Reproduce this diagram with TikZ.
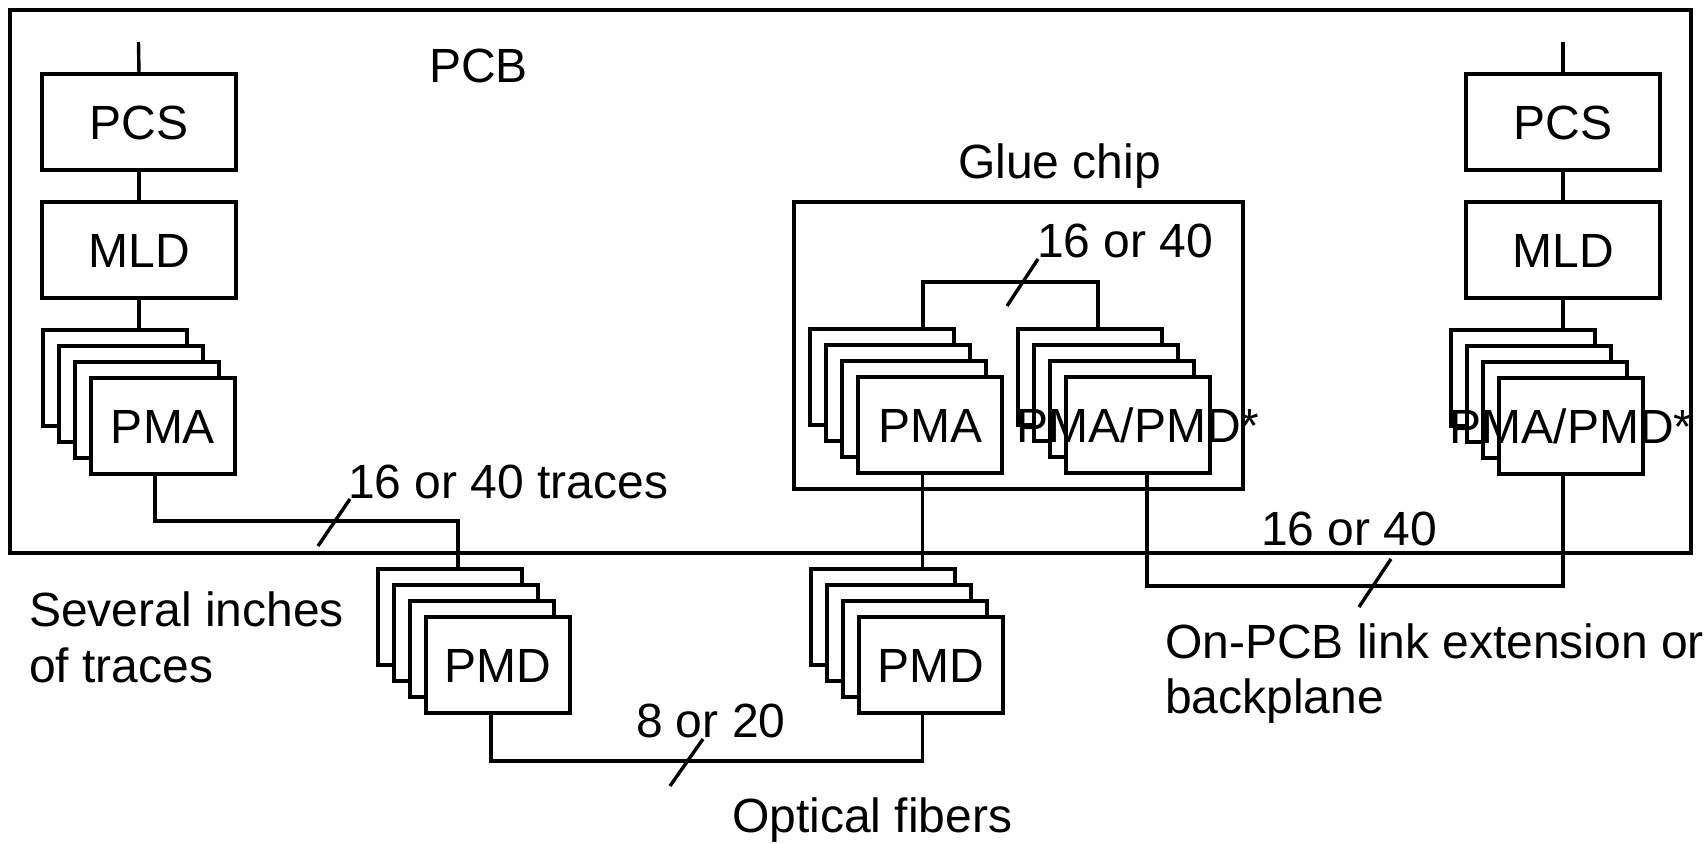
\documentclass[tikz,border=0pt]{standalone}
\usepackage{fontspec}
\setmainfont{Liberation Sans}
\tikzset{
  lw/.style={line width=3.4pt},
  boxst/.style={draw, lw, fill=white, rectangle, inner sep=0pt, outer sep=0pt,
    minimum width=194pt, minimum height=96pt, anchor=north west},
  layerbox/.style={boxst, minimum width=144pt},
  framebox/.style={draw, lw, rectangle, inner sep=0pt, outer sep=0pt, anchor=north west},
  lbl/.style={inner sep=0pt, outer sep=0pt, font=\fontsize{48}{57}\selectfont},
  txt/.style={lbl, anchor=base west},
  wire/.style={lw},
}
\newcommand{\layerstack}[4]{%
  \foreach \k in {0,1,2}{%
    \node[layerbox] (#1l\k) at ({#2+16*\k},{#3+16*\k}) {};
  }%
  \node[layerbox] (#1) at ({#2+48},{#3+48}) {};
  \node[lbl, anchor=base] (#1t) at ([yshift=-17pt]#1.center) {#4};
}
\begin{document}
\begin{tikzpicture}[x=1pt, y=-1pt]
\useasboundingbox (0,0) rectangle (1707,843);
\fill[white] (0,0) rectangle (1707,843);

% PCB frame
\node[framebox, minimum width=1681pt, minimum height=543pt] (pcb) at (10,10) {};
\node[txt] (pcbt) at (429,82) {PCB};

% Glue chip frame
\node[framebox, minimum width=449pt, minimum height=287pt] (glue) at (794,202) {};
\node[txt] (gluet) at (958,178) {Glue chip};

% Left column
\node[boxst] (pcsL) at (42,74) {};
\node[lbl, anchor=base] (pcsLt) at ([yshift=-17pt]pcsL.center) {PCS};
\node[boxst] (mldL) at (42,202) {};
\node[lbl, anchor=base] (mldLt) at ([yshift=-17pt]mldL.center) {MLD};
\layerstack{A}{43}{330}{PMA}

% Right column
\node[boxst] (pcsR) at (1466,74) {};
\node[lbl, anchor=base] (pcsRt) at ([yshift=-17pt]pcsR.center) {PCS};
\node[boxst] (mldR) at (1466,202) {};
\node[lbl, anchor=base] (mldRt) at ([yshift=-17pt]mldR.center) {MLD};
\layerstack{D}{1451}{330}{PMA/PMD*}

% Glue chip stacks
\layerstack{B}{810}{329}{PMA}
\layerstack{C}{1018}{329}{PMA/PMD*}

% PMD stacks
\layerstack{E}{378}{569}{PMD}
\layerstack{F}{811}{569}{PMD}

% vertical links in columns
\coordinate (topL) at (138.5,42);
\coordinate (topR) at (1563,42);
\draw[wire] (topL) -- (pcsL.north);
\draw[wire] (pcsL.south) -- (mldL.north);
\draw[wire] (mldL.south) -- (mldL.south |- Al0.north);
\draw[wire] (topR) -- (pcsR.north);
\draw[wire] (pcsR.south) -- (mldR.north);
\draw[wire] (mldR.south) -- (mldR.south |- Dl0.north);

% PMA (left) to PMD (left)
\coordinate (kA) at (155,521);
\coordinate (kB) at (458,521);
\draw[wire] (A.south -| kA) -- (kA) -- (kB) -- (El0.north -| kB);

% glue bracket
\coordinate (gb1) at (923,282);
\coordinate (gb2) at (1098,282);
\draw[wire] (Bl0.north -| gb1) -- (gb1) -- (gb2) -- (Cl0.north -| gb2);

% glue PMA down to right PMD
\coordinate (gd) at (922.5,520);
\draw[wire] (B.south -| gd) -- (Fl0.north -| gd);

% glue PMA/PMD to right PMA/PMD
\coordinate (r1) at (1147,586);
\coordinate (r2) at (1563,586);
\draw[wire] (C.south -| r1) -- (r1) -- (r2) -- (D.south -| r2);

% optical fibers
\coordinate (o1) at (491,761);
\coordinate (o2) at (922.5,761);
\draw[wire] (E.south -| o1) -- (o1) -- (o2) -- (F.south -| o2);

% slash marks
\draw[wire] (318,546) -- (350,499);
\draw[wire] (1007,306) -- (1038,259);
\draw[wire] (1359,607) -- (1391,559);
\draw[wire] (670,786) -- (703,739);

% labels
\node[txt] (l1) at (348,498) {16 or 40 traces};
\node[txt] (l2) at (1037,257) {16 or 40};
\node[txt] (l3) at (1261,545) {16 or 40};
\node[txt] (l4) at (29,626) {Several inches};
\node[txt] (l5) at (29,682) {of traces};
\node[txt] (l6) at (636,737) {8 or 20};
\node[txt] (l7) at (732,832) {Optical fibers};
\node[txt] (l8) at (1165,658) {On-PCB link extension or};
\node[txt] (l9) at (1165,713) {backplane};
\end{tikzpicture}
\end{document}
